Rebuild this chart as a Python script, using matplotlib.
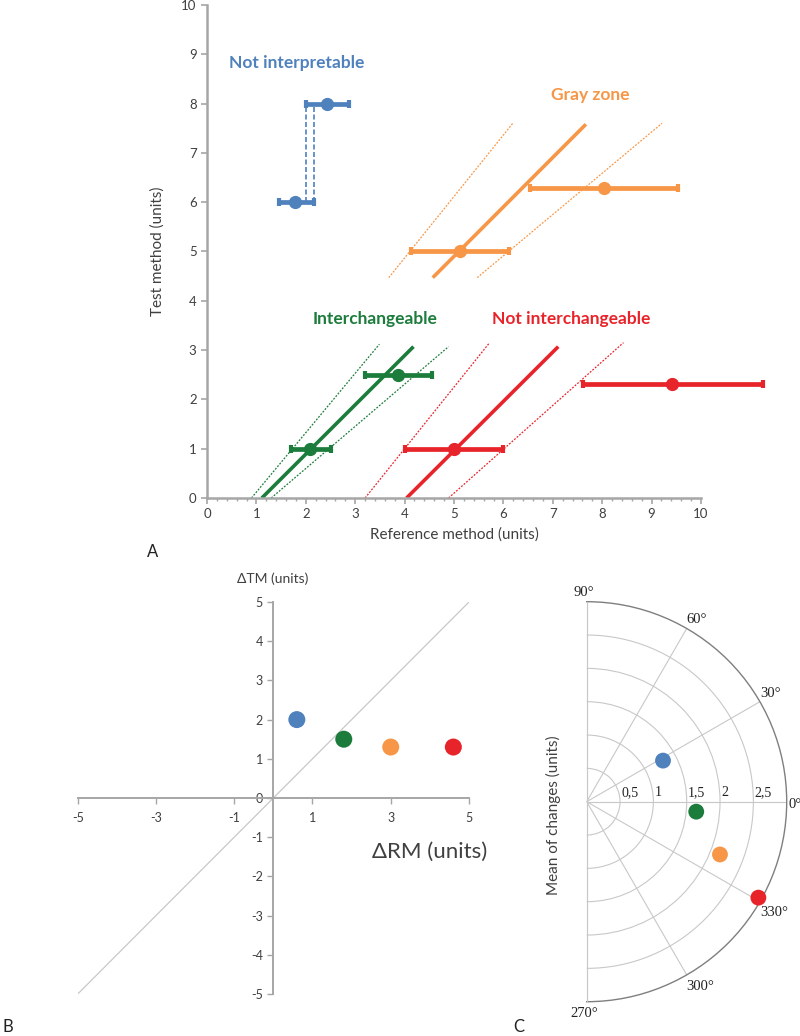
import matplotlib
matplotlib.use("Agg")
import matplotlib.pyplot as plt
import numpy as np
from matplotlib.ticker import MultipleLocator

# --- colours (Excel-like palette) ---
BLUE = "#4F81BD"
ORANGE = "#F79646"
GREEN = "#1C7C3C"
RED = "#E8242B"
AXIS_GRAY = "#A6A6A6"
TEXT_GRAY = "#404040"

SANS = "Lato"
SERIF = "Liberation Serif"

# --- panel A: means with x error bars (reference method) ---
blue_x = [1.79, 2.42]
blue_y = [6.0, 8.0]
blue_lo = [1.46, 2.00]
blue_hi = [2.17, 2.88]

orange_x = [5.13, 8.03]
orange_y = [5.02, 6.28]
orange_lo = [4.13, 6.53]
orange_hi = [6.11, 9.53]

green_x = [2.08, 3.87]
green_y = [1.0, 2.5]
green_lo = [1.70, 3.20]
green_hi = [2.50, 4.55]

red_x = [5.00, 9.42]
red_y = [1.0, 2.31]
red_lo = [4.01, 7.62]
red_hi = [5.99, 11.25]

# regression line and its limits (x at start / end, y at start / end)
orange_line_x = [4.57, 7.67]
orange_line_y = [4.47, 7.58]
orange_low_x = [3.68, 6.19]
orange_high_x = [5.47, 9.21]
orange_band_y = [4.47, 7.60]

green_line_x = [1.11, 4.18]
green_line_y = [0.0, 3.07]
green_low_x = [0.90, 3.49]
green_low_y = [0.0, 3.12]
green_high_x = [1.30, 4.89]
green_high_y = [0.0, 3.07]

red_line_x = [4.04, 7.11]
red_line_y = [0.0, 3.07]
red_low_x = [3.20, 5.72]
red_high_x = [4.89, 8.43]
red_band_y = [0.0, 3.15]

# --- panel B: changes ---
delta_rm = [0.6, 1.8, 3.0, 4.6]
delta_tm = [2.0, 1.5, 1.3, 1.3]
point_colors = [BLUE, GREEN, ORANGE, RED]

# --- panel C: polar (angle in degrees, mean of changes) ---
polar_angle = [28.3, -5.2, -21.6, -29.2]
polar_mean = [1.30, 1.65, 2.15, 2.95]
ring_values = [0.5, 1.0, 1.5, 2.0, 2.5]
ring_labels = ["0,5", "1", "1,5", "2", "2,5"]
spoke_angles = [90, 60, 30, 0, -30, -60, -90]
spoke_labels = ["90°", "60°", "30°", "0°", "330°", "300°", "270°"]

plt.rcParams["font.family"] = [SANS, "DejaVu Sans"]
plt.rcParams["axes.unicode_minus"] = False

W, H = 800, 1036
fig = plt.figure(figsize=(W / 100, H / 100), dpi=100)


def px_axes(x0, y0, x1, y1, **kw):
    """Axes from pixel box (left, top, right, bottom)."""
    return fig.add_axes([x0 / W, 1 - y1 / H, (x1 - x0) / W, (y1 - y0) / H], **kw)


# ================= panel A =================
ax = px_axes(207, 5, 701, 498)
ax.set_xlim(0, 10)
ax.set_ylim(0, 10)
for s in ["top", "right"]:
    ax.spines[s].set_visible(False)
for s in ["left", "bottom"]:
    ax.spines[s].set_color(AXIS_GRAY)
    ax.spines[s].set_linewidth(1.8)
ax.set_xticks(range(0, 11))
ax.set_yticks(range(0, 11))
ax.xaxis.set_minor_locator(MultipleLocator(0.2))
ax.tick_params(axis="both", which="major", colors=AXIS_GRAY, labelcolor=TEXT_GRAY,
               labelsize=9.5, length=4, width=1.2)
ax.tick_params(axis="x", which="minor", colors=AXIS_GRAY, length=2.5, width=1)
ax.set_xlabel("Reference method (units)", fontsize=11, color=TEXT_GRAY, labelpad=5)
ax.set_ylabel("Test method (units)", fontsize=11, color=TEXT_GRAY, labelpad=12)

# dotted limits and solid lines
for lx, ly, c in [
    (orange_low_x, orange_band_y, ORANGE), (orange_high_x, orange_band_y, ORANGE),
    (green_low_x, green_low_y, GREEN), (green_high_x, green_high_y, GREEN),
    (red_low_x, red_band_y, RED), (red_high_x, red_band_y, RED),
]:
    ax.plot(lx, ly, color=c, lw=0.9, ls=(0, (1.5, 1.2)))
for lx, ly, c in [
    (orange_line_x, orange_line_y, ORANGE),
    (green_line_x, green_line_y, GREEN),
    (red_line_x, red_line_y, RED),
]:
    ax.plot(lx, ly, color=c, lw=2.6, solid_capstyle="butt")

# blue: two vertical dashed lines joining the bars
ax.vlines([blue_lo[1], blue_hi[0]], blue_y[0], blue_y[1], colors=BLUE,
          lw=1.2, linestyles=(0, (3, 1.5)))

for xs, ys, lo, hi, c in [
    (blue_x, blue_y, blue_lo, blue_hi, BLUE),
    (orange_x, orange_y, orange_lo, orange_hi, ORANGE),
    (green_x, green_y, green_lo, green_hi, GREEN),
    (red_x, red_y, red_lo, red_hi, RED),
]:
    xs = np.array(xs)
    err = [xs - np.array(lo), np.array(hi) - xs]
    cont = ax.errorbar(xs, ys, xerr=err, fmt="o", color=c, ms=8.5,
                       elinewidth=3.4, capsize=2.8, capthick=3)
    for art in cont.get_children():
        art.set_clip_on(False)

label_kw = dict(ha="center", va="center", fontsize=12.5, fontweight="bold")
ax.text(1.82, 8.83, "Not interpretable", color=BLUE, **label_kw)
ax.text(7.76, 8.17, "Gray zone", color=ORANGE, **label_kw)
ax.text(3.40, 3.63, "Interchangeable", color=GREEN, **label_kw)
ax.text(7.38, 3.63, "Not interchangeable", color=RED, **label_kw)

fig.text(153 / W, 1 - 552 / H, "A", fontsize=12, color="#222222", ha="center", va="center")

# ================= panel B =================
bx = px_axes(77.7, 602, 469, 994)
bx.set_xlim(-5, 5)
bx.set_ylim(-5, 5)
for s in ["top", "right"]:
    bx.spines[s].set_visible(False)
for s in ["left", "bottom"]:
    bx.spines[s].set_position(("data", 0))
    bx.spines[s].set_color(AXIS_GRAY)
    bx.spines[s].set_linewidth(1.4)
bx.set_xticks([-5, -3, -1, 1, 3, 5])
bx.set_yticks(range(-5, 6))
bx.tick_params(axis="both", colors=AXIS_GRAY, labelcolor=TEXT_GRAY,
               labelsize=9, length=4, width=1)
bx.tick_params(axis="x", pad=6)
bx.patch.set_visible(False)

bx.plot([-5, 5], [-5, 5], color="#C8C8C8", lw=0.9, zorder=1)
bx.scatter(delta_rm, delta_tm, s=150, c=point_colors, edgecolors="none", zorder=3)

fig.text(273 / W, 1 - 579 / H, "ΔTM (units)", fontsize=10, color=TEXT_GRAY,
         ha="center", va="center")
fig.text(430 / W, 1 - 852 / H, "ΔRM (units)", fontsize=16, color=TEXT_GRAY,
         ha="center", va="center")
fig.text(8 / W, 1 - 1027 / H, "B", fontsize=12, color="#222222", ha="center", va="center")

# ================= panel C =================
# the half wedge sits in the middle of a square box: centre 100 px right of the box edge
cx = px_axes(486.7, 601.7, 886.7, 1001.7, projection="polar")
cx.set_thetamin(-90)
cx.set_thetamax(90)
cx.set_rlim(0, 3)
cx.set_rticks(ring_values)
cx.set_yticklabels([])
cx.set_xticks(np.deg2rad(spoke_angles))
cx.set_xticklabels([])
cx.grid(True, color="#C8C8C8", lw=0.8)
cx.spines["polar"].set_color("#7F7F7F")
cx.spines["polar"].set_linewidth(1.0)
for s in ["start", "end"]:
    cx.spines[s].set_color("#C8C8C8")
    cx.spines[s].set_linewidth(0.8)
cx.spines["inner"].set_visible(False)
cx.tick_params(length=0)

cx.scatter(np.deg2rad(polar_angle), polar_mean, s=130, c=point_colors,
           edgecolors="none", zorder=3, clip_on=False)

for r, lbl in zip(ring_values, ring_labels):
    cx.annotate(lbl, xy=(0, r), xytext=(1, 2), textcoords="offset points",
                ha="left", va="bottom", fontsize=10, family=SERIF, color="#222222")

spoke_layout = {
    90: ((-2, 2), "center", "bottom"),
    60: ((0, 2), "left", "bottom"),
    30: ((0, 1), "left", "bottom"),
    0: ((1, -2), "left", "center"),
    -30: ((0, -3), "left", "top"),
    -60: ((0, -4), "left", "top"),
    -90: ((-2, -4), "center", "top"),
}
for ang, lbl in zip(spoke_angles, spoke_labels):
    off, ha, va = spoke_layout[ang]
    cx.annotate(lbl, xy=(np.deg2rad(ang), 3), xytext=off, textcoords="offset points",
                ha=ha, va=va, fontsize=10.5, family=SERIF, color="#222222",
                annotation_clip=False)

fig.text(553 / W, 1 - 815 / H, "Mean of changes (units)", fontsize=11,
         color=TEXT_GRAY, rotation=90, ha="center", va="center")
fig.text(519 / W, 1 - 1027 / H, "C", fontsize=12, color="#222222", ha="center", va="center")

fig.savefig("out.png", dpi=100)
